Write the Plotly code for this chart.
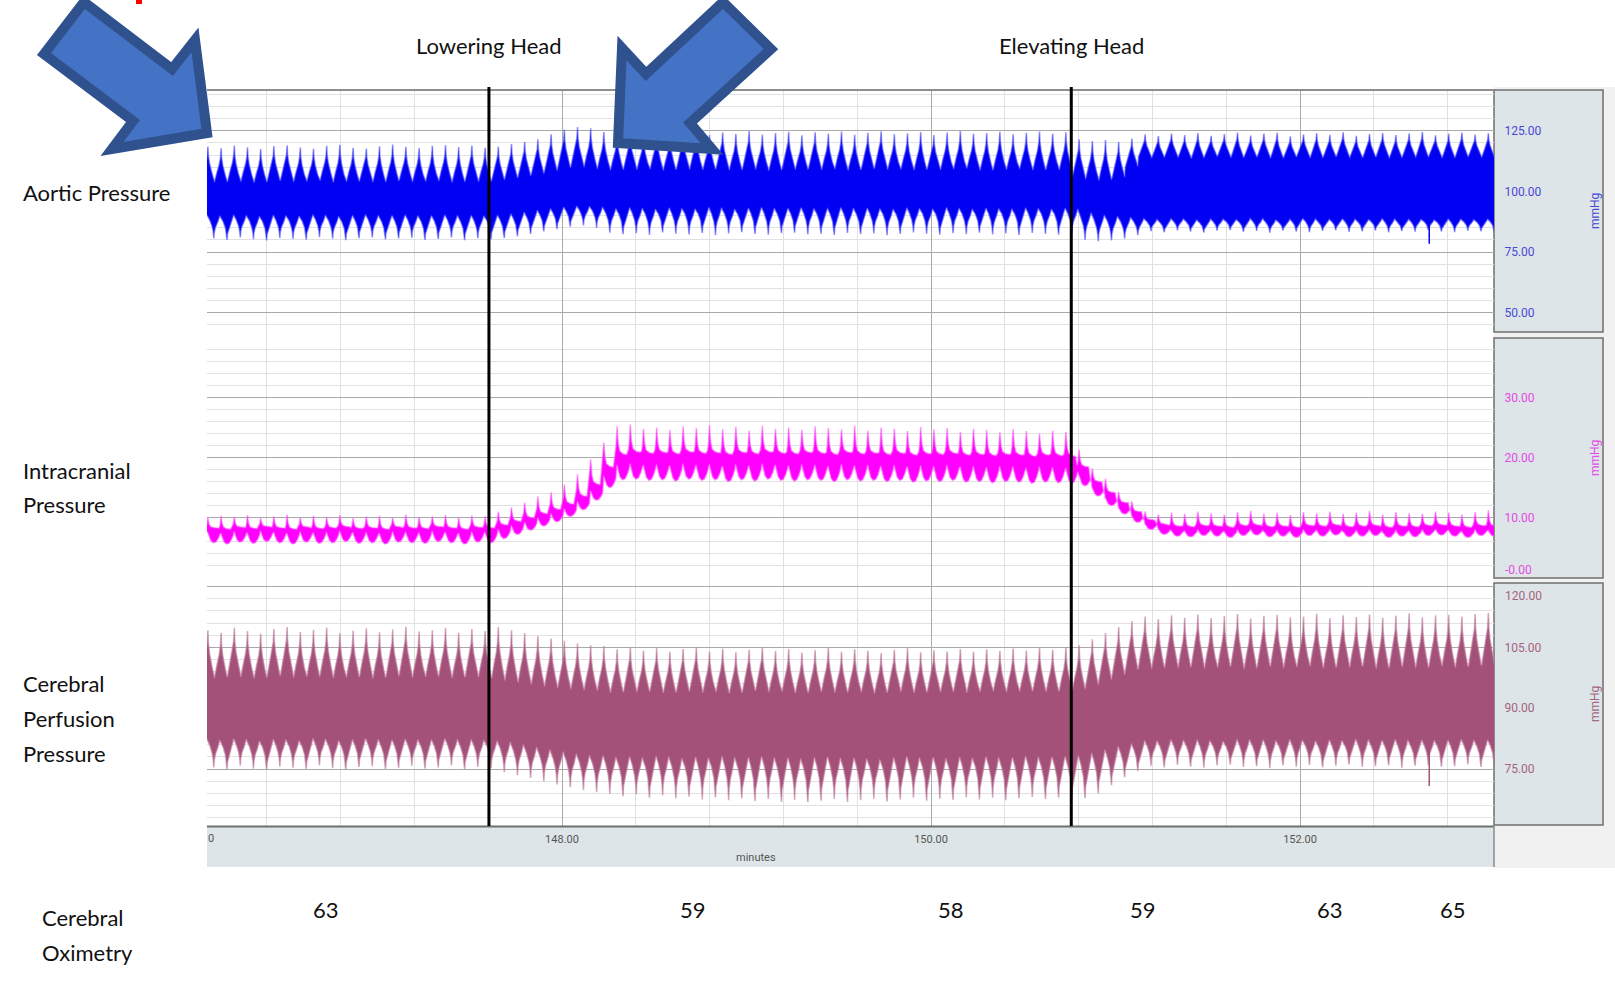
import numpy as np
import plotly.graph_objects as go
from plotly.subplots import make_subplots

W, H = 1615, 986

# ---- time axis (minutes) -------------------------------------------------
X_RANGE = [146.076, 153.051]
X_TICKS = [148, 150, 152]
X_TICKTEXT = ["148.00", "150.00", "152.00"]
BREATH_START = 146.081      # first ventilator breath peak
BREATH_PERIOD = 0.07154     # minutes per breath

EVENT_TIMES = [147.604, 150.760]
EVENT_LABELS = ["Lowering Head", "Elevating Head"]

# ---- cerebral oximetry readings -----------------------------------------
oxi_times = [146.72, 148.71, 150.11, 151.15, 152.16, 152.83]
oxi_values = [63, 59, 58, 59, 63, 65]

# ---- aortic pressure, per-breath envelope (mmHg) --------------------------
aortic_peak = [
    118.5, 117.8, 118.9, 118.2, 117.5, 118.7, 119.0, 118.1, 117.6, 118.8, 119.2,
    118.0, 117.7, 118.6, 119.3, 118.4, 117.9, 118.8, 119.1, 118.3, 118.9, 118.0,
    118.5, 119.5, 120.5, 121.5, 123.5, 125.5, 126.5, 126.0,
    124.5, 123.8, 124.2, 123.0, 124.6, 123.5, 124.0, 124.8, 123.2, 124.3, 123.7, 124.9,
    123.4, 124.1, 124.6, 123.1, 124.4, 123.9, 124.7, 123.3, 124.2, 124.8, 123.6, 124.0,
    124.5, 123.2, 124.3, 124.9, 123.8, 124.1, 124.6, 123.5, 124.2, 124.7, 123.9, 124.4,
    121.5, 120.8, 121.2, 120.5, 121.8,
    123.5, 122.8, 123.9, 123.2, 124.1, 122.9, 123.6, 124.3, 123.0, 123.8, 124.2, 122.7, 123.5, 124.0,
    123.3, 124.4, 122.9, 123.7, 124.1, 123.2, 123.9, 124.5, 123.1, 123.8, 124.3, 123.4, 124.0,
]
aortic_upper = [
    104.5, 103.8, 104.2, 104.0, 103.6, 104.3, 104.6, 103.9, 104.1, 104.4, 103.7,
    104.0, 104.5, 103.8, 104.2, 104.6, 103.9, 104.1, 104.3, 103.7, 104.4, 104.0,
    104.5, 105.3, 106.2, 107.0, 108.2, 109.5, 110.3, 110.0,
    109.2, 108.7, 109.4, 108.9, 109.1, 108.6, 109.3, 109.0, 108.8, 109.5, 108.7, 109.2,
    109.0, 108.5, 109.3, 108.9, 109.4, 108.8, 109.1, 108.6, 109.2, 109.5, 108.9, 109.0,
    108.7, 109.3, 108.8, 109.1, 109.4, 108.6, 109.0, 108.9, 109.2, 108.7, 109.1, 108.8,
    106.0, 105.0, 104.5, 105.5, 110.0,
    114.2, 113.8, 114.5, 114.0, 113.6, 114.3, 114.7, 113.9, 114.1, 114.4, 113.7, 114.0, 114.6, 113.8,
    114.2, 114.5, 113.9, 114.1, 114.3, 113.7, 114.4, 114.0, 114.6, 113.8, 114.2, 114.5, 114.0,
]
aortic_lower = [
    90.2, 89.8, 90.4, 90.0, 89.7, 90.3, 90.1, 89.9, 90.5, 90.0, 89.6,
    90.2, 90.4, 89.8, 90.1, 90.3, 89.9, 90.0, 90.4, 89.7, 90.2, 90.0,
    90.2, 90.8, 91.5, 92.3, 93.0, 93.6, 94.0, 93.8,
    93.2, 92.8, 93.4, 93.0, 92.7, 93.3, 93.1, 92.9, 93.5, 93.0, 92.6, 93.2,
    93.4, 92.8, 93.1, 93.3, 92.9, 93.0, 93.4, 92.7, 93.2, 93.0, 92.8, 93.3,
    93.1, 92.9, 93.4, 93.0, 92.7, 93.2, 93.1, 92.8, 93.3, 93.0, 92.9, 93.1,
    91.5, 90.5, 90.0, 89.5, 89.0,
    88.6, 88.2, 88.8, 88.4, 88.1, 88.7, 88.5, 88.3, 88.9, 88.4, 88.0, 88.6, 88.8, 88.2,
    88.5, 88.7, 88.3, 88.4, 88.8, 88.1, 88.6, 88.4, 88.2, 88.7, 88.5, 88.3, 88.6,
]
aortic_trough = [
    80.6, 80.0, 81.0, 80.3, 79.8, 80.8, 80.4, 80.1, 81.1, 80.5, 79.9,
    80.7, 81.0, 80.2, 80.6, 80.9, 80.0, 80.4, 81.0, 79.9, 80.7, 80.3,
    80.8, 81.5, 82.5, 83.5, 84.5, 85.5, 86.0, 85.0,
    83.0, 82.4, 82.8, 82.1, 83.1, 82.6, 82.3, 82.9, 82.0, 82.7, 83.2, 82.5,
    82.2, 82.8, 83.0, 82.3, 82.6, 82.1, 82.9, 82.4, 82.7, 82.0, 82.5, 83.1,
    82.6, 82.2, 82.8, 82.4, 83.0, 82.3, 82.7, 82.1, 82.9, 82.5, 82.2, 82.8,
    80.0, 79.5, 79.8, 80.5, 82.0,
    83.6, 83.2, 84.0, 83.5, 83.1, 83.8, 84.1, 83.4, 83.7, 83.0, 83.9, 83.5, 83.2, 83.8,
    84.0, 83.3, 83.6, 83.9, 83.1, 83.7, 83.4, 84.1, 83.5, 83.2, 83.8, 83.6, 83.4,
]

# ---- intracranial pressure, per-breath envelope (mmHg) --------------------
icp_peak = [
    10.0, 10.3, 10.1, 10.4, 9.9, 10.2, 10.5, 10.0, 10.3, 10.1, 10.4,
    9.9, 10.2, 10.3, 10.0, 10.5, 10.1, 10.2, 10.4, 10.0, 10.3, 10.2,
    11.0, 11.7, 12.5, 13.5, 14.2, 15.5, 17.2, 19.7, 22.5, 25.2,
    25.5, 24.8, 25.0, 24.6, 25.2, 24.9, 25.4, 24.7, 25.1, 24.5, 25.3, 24.8,
    25.0, 24.6, 25.2, 24.9, 24.7, 25.3, 24.5, 25.0, 24.8, 24.4, 25.1, 24.7,
    24.9, 24.3, 24.8, 24.6, 24.2, 24.7, 24.4, 24.0, 24.5, 24.3,
    21.3, 18.2, 16.5, 14.3, 12.7, 11.0, 10.5,
    10.8, 10.6, 11.0, 10.7, 10.5, 10.9, 11.1, 10.6, 10.8, 10.4, 10.9, 10.7, 11.0,
    10.6, 10.8, 11.1, 10.5, 10.9, 10.7, 10.6, 11.0, 10.8, 10.5, 10.9, 11.2,
]
icp_upper = [
    8.3, 8.1, 8.4, 8.2, 8.5, 8.3, 8.1, 8.4, 8.2, 8.3, 8.5,
    8.2, 8.3, 8.1, 8.4, 8.3, 8.2, 8.5, 8.3, 8.1, 8.4, 8.3,
    8.8, 9.4, 10.0, 10.7, 11.4, 12.3, 13.6, 15.6, 18.5, 20.6,
    21.0, 20.8, 20.9, 20.7, 21.0, 20.8, 20.9, 20.6, 20.9, 20.7, 21.0, 20.8,
    20.7, 20.9, 20.8, 20.6, 20.9, 20.7, 20.8, 20.6, 20.8, 20.5, 20.7, 20.6,
    20.8, 20.5, 20.6, 20.4, 20.6, 20.5, 20.3, 20.5, 20.4, 20.3,
    18.5, 16.0, 14.2, 12.5, 11.0, 9.6, 8.9,
    8.6, 8.5, 8.7, 8.6, 8.4, 8.7, 8.8, 8.5, 8.6, 8.4, 8.7, 8.6, 8.8,
    8.5, 8.6, 8.7, 8.4, 8.6, 8.5, 8.7, 8.8, 8.6, 8.4, 8.7, 8.6,
]
icp_cusp = [
    7.6, 7.4, 7.7, 7.5, 7.8, 7.6, 7.4, 7.7, 7.5, 7.6, 7.8,
    7.5, 7.6, 7.4, 7.7, 7.6, 7.5, 7.8, 7.6, 7.4, 7.7, 7.6,
    8.1, 8.7, 9.3, 10.0, 10.7, 11.5, 12.7, 14.5, 17.0, 18.8,
    19.0, 18.8, 18.9, 18.7, 19.0, 18.8, 18.9, 18.6, 18.9, 18.7, 19.0, 18.8,
    18.7, 18.9, 18.8, 18.6, 18.9, 18.7, 18.8, 18.6, 18.8, 18.5, 18.7, 18.6,
    18.8, 18.5, 18.6, 18.4, 18.6, 18.5, 18.3, 18.5, 18.4, 18.3,
    17.0, 15.0, 13.3, 11.7, 10.3, 9.0, 8.2,
    7.9, 7.8, 8.0, 7.9, 7.7, 8.0, 8.1, 7.8, 7.9, 7.7, 8.0, 7.9, 8.1,
    7.8, 7.9, 8.0, 7.7, 7.9, 7.8, 8.0, 8.1, 7.9, 7.7, 8.0, 7.9,
]
icp_trough = [
    5.8, 5.6, 5.9, 5.7, 6.0, 5.8, 5.6, 5.9, 5.7, 5.8, 6.0,
    5.7, 5.8, 5.6, 5.9, 5.8, 5.7, 6.0, 5.8, 5.6, 5.9, 5.8,
    6.5, 7.2, 7.9, 8.6, 9.3, 10.2, 11.3, 12.9, 15.0, 16.3,
    16.4, 16.2, 16.3, 16.1, 16.4, 16.2, 16.3, 16.0, 16.3, 16.1, 16.4, 16.2,
    16.1, 16.3, 16.2, 16.0, 16.3, 16.1, 16.2, 16.0, 16.2, 15.9, 16.1, 16.0,
    16.2, 15.9, 16.0, 15.8, 16.0, 15.9, 15.7, 15.9, 15.8, 15.7,
    15.3, 13.6, 12.0, 10.6, 9.2, 8.0, 7.2,
    6.9, 6.8, 7.0, 6.9, 6.7, 7.0, 7.1, 6.8, 6.9, 6.7, 7.0, 6.9, 7.1,
    6.8, 6.9, 7.0, 6.7, 6.9, 6.8, 7.0, 7.1, 6.9, 6.7, 7.0, 6.9,
]

# ---- cerebral perfusion pressure, per-breath envelope (mmHg) --------------
cpp_peak = [
    109.2, 108.6, 109.8, 109.0, 108.4, 109.5, 110.0, 108.8, 109.3, 109.9, 108.5,
    109.1, 109.7, 108.7, 109.4, 110.1, 108.9, 109.2, 109.8, 108.6, 109.5, 109.0,
    110.0, 109.2, 108.5, 107.8, 107.2, 106.6, 106.0, 105.5,
    105.3, 104.5, 105.0, 104.2, 104.8, 103.9, 104.6, 105.1, 104.0, 104.7, 103.8, 104.4,
    105.0, 104.1, 104.6, 103.7, 104.3, 104.9, 103.9, 104.5, 104.2, 103.6, 104.4, 104.8,
    103.8, 104.3, 104.0, 104.6, 103.9, 104.5, 104.1, 104.7, 104.2, 104.9, 104.4, 105.0,
    105.5, 107.0, 108.5, 110.0, 111.5,
    112.6, 112.0, 112.9, 112.3, 113.1, 112.2, 112.7, 113.2, 112.1, 112.8, 113.0, 112.4, 112.6, 113.3,
    112.2, 112.9, 112.5, 113.1, 112.3, 112.8, 113.4, 112.4, 112.9, 113.0, 112.6, 113.2, 113.5,
]
cpp_upper = [
    97.8, 97.4, 98.0, 97.6, 97.3, 97.9, 98.1, 97.5, 97.7, 98.0, 97.4,
    97.6, 97.9, 97.3, 97.8, 98.1, 97.5, 97.7, 98.0, 97.4, 97.8, 97.6,
    97.3, 96.8, 96.3, 95.8, 95.3, 94.9, 94.6, 94.4,
    94.3, 93.8, 94.2, 93.9, 94.4, 93.7, 94.1, 94.3, 93.8, 94.0, 93.6, 94.2,
    94.4, 93.9, 94.1, 93.7, 94.0, 94.3, 93.8, 94.1, 93.9, 93.6, 94.2, 94.0,
    93.7, 94.1, 93.9, 94.3, 93.8, 94.0, 94.2, 93.9, 94.1, 94.4, 94.0, 94.3,
    94.5, 95.5, 96.8, 98.0, 99.2,
    100.1, 99.7, 100.3, 99.9, 100.4, 99.8, 100.0, 100.5, 99.6, 100.2, 100.4, 99.9, 100.1, 100.3,
    99.8, 100.2, 100.0, 100.5, 99.7, 100.1, 100.4, 99.9, 100.2, 100.3, 100.0, 100.4, 100.6,
]
cpp_lower = [
    82.3, 82.0, 82.5, 82.1, 81.9, 82.4, 82.2, 82.0, 82.6, 82.2, 81.9,
    82.3, 82.5, 82.0, 82.2, 82.4, 82.1, 82.2, 82.5, 81.9, 82.3, 82.1,
    81.8, 81.2, 80.6, 80.0, 79.5, 79.0, 78.6, 78.3,
    78.2, 77.8, 78.1, 77.7, 78.3, 77.9, 77.6, 78.0, 77.8, 78.2, 77.5, 77.9,
    78.1, 77.6, 77.8, 77.4, 77.9, 78.0, 77.5, 77.8, 77.6, 77.3, 77.9, 78.1,
    77.7, 77.9, 77.5, 78.0, 77.8, 78.1, 77.6, 77.9, 78.2, 77.8, 78.0, 78.1,
    78.3, 79.0, 79.8, 80.6, 81.3,
    82.1, 81.8, 82.3, 81.9, 82.2, 82.0, 81.7, 82.4, 82.0, 82.2, 81.9, 82.3, 82.1, 81.8,
    82.2, 82.0, 82.4, 81.9, 82.1, 82.3, 81.8, 82.2, 82.0, 82.1, 82.3, 81.9, 82.2,
]
cpp_trough = [
    75.4, 74.9, 75.8, 75.1, 74.8, 75.6, 75.3, 75.0, 75.9, 75.2, 74.8,
    75.5, 75.7, 75.0, 75.3, 75.8, 75.1, 75.4, 75.9, 74.9, 75.5, 75.2,
    74.2, 73.5, 72.8, 72.0, 71.2, 70.5, 69.8, 69.3,
    68.9, 68.3, 68.7, 67.9, 68.5, 67.8, 68.2, 67.5, 68.0, 67.3, 67.8, 67.1,
    67.6, 66.9, 67.4, 66.8, 67.2, 67.6, 66.9, 67.3, 67.7, 67.0, 67.5, 67.9,
    67.2, 67.7, 67.4, 68.0, 67.5, 67.9, 67.3, 67.8, 68.1, 67.6, 67.9, 67.5,
    67.8, 69.0, 71.0, 73.0, 74.5,
    75.8, 75.4, 76.0, 75.6, 75.3, 75.9, 76.1, 75.5, 75.7, 75.2, 75.9, 75.6, 76.0, 75.4,
    75.8, 76.1, 75.5, 75.7, 75.9, 75.3, 75.8, 76.0, 75.6, 75.7, 76.1, 75.5, 75.8,
]

# single-sample artefact near the end of the record (time, low value)
artifact_time = 152.70
aortic_artifact = [88.0, 78.4]
cpp_artifact = [82.0, 70.8]

# ---- axis scales -----------------------------------------------------------
AORTIC_RANGE = [40.0, 141.8]
AORTIC_TICKS = [50, 75, 100, 125]
AORTIC_TICKTEXT = ["50.00", "75.00", "100.00", "125.00"]
ICP_RANGE = [-0.08, 40.08]
ICP_TICKS = [0, 10, 20, 30]
ICP_TICKTEXT = ["-0.00", "10.00", "20.00", "30.00"]
CPP_RANGE = [60.95, 122.1]
CPP_TICKS = [75, 90, 105, 120]
CPP_TICKTEXT = ["75.00", "90.00", "105.00", "120.00"]

n_breaths = len(aortic_peak)
for arr in (aortic_upper, aortic_lower, aortic_trough, icp_peak, icp_upper,
            icp_cusp, icp_trough, cpp_peak, cpp_upper, cpp_lower, cpp_trough):
    assert len(arr) == n_breaths
breath_times = BREATH_START + BREATH_PERIOD * np.arange(n_breaths)

# ---- envelope outlines (phase in breaths, weight between base and tip) -----
SPIKE_UP = [(-0.50, 0.0), (-0.32, 0.28), (-0.14, 0.52), (-0.05, 0.72), (0.0, 1.0),
            (0.03, 0.74), (0.12, 0.50), (0.30, 0.22), (0.45, 0.02)]
SPIKE_DOWN = [(-0.05, 0.0), (0.15, 0.22), (0.33, 0.50), (0.41, 0.74), (0.45, 1.0),
              (0.48, 0.74), (0.57, 0.52), (0.75, 0.28), (0.90, 0.02)]
ICP_UP = [(-0.15, 0.05), (-0.08, 0.30), (-0.03, 0.75), (0.0, 1.0), (0.03, 0.70),
          (0.09, 0.35), (0.20, 0.10), (0.45, 0.0), (0.72, -0.03)]
ICP_DOWN = [(-0.02, 0.0), (0.08, 0.35), (0.22, 0.80), (0.40, 1.0), (0.60, 0.93),
            (0.78, 0.60), (0.90, 0.25)]


def edge(base, tip, shape):
    xs, ys = [X_RANGE[0] - 0.05], [base[0]]
    for t, b, p in zip(breath_times, base, tip):
        for phase, w in shape:
            xs.append(t + phase * BREATH_PERIOD)
            ys.append(b + w * (p - b))
    xs.append(X_RANGE[1] + 0.05)
    ys.append(base[-1])
    return xs, ys


def band(upper_base, upper_tip, lower_base, lower_tip, up_shape, down_shape):
    ux, uy = edge(upper_base, upper_tip, up_shape)
    lx, ly = edge(lower_base, lower_tip, down_shape)
    return ux + lx[::-1], uy + ly[::-1]


BLUE, BLUE_EDGE = "#0000f2", "rgba(70,70,255,0.55)"
MAGENTA, MAGENTA_EDGE = "#ff00ff", "rgba(255,90,255,0.55)"
MAUVE, MAUVE_EDGE = "#a4517a", "rgba(190,120,155,0.6)"

fig = make_subplots(rows=3, cols=1, shared_xaxes=True, vertical_spacing=0)

bx, by = band(aortic_upper, aortic_peak, aortic_lower, aortic_trough, SPIKE_UP, SPIKE_DOWN)
fig.add_trace(go.Scatter(x=bx, y=by, mode="lines", fill="toself", fillcolor=BLUE,
                         line=dict(color=BLUE_EDGE, width=1.6), hoverinfo="skip"), row=1, col=1)
fig.add_trace(go.Scatter(x=[artifact_time, artifact_time], y=aortic_artifact, mode="lines",
                         line=dict(color=BLUE, width=1.5), hoverinfo="skip"), row=1, col=1)

bx, by = band(icp_upper, icp_peak, icp_cusp, icp_trough, ICP_UP, ICP_DOWN)
fig.add_trace(go.Scatter(x=bx, y=by, mode="lines", fill="toself", fillcolor=MAGENTA,
                         line=dict(color=MAGENTA_EDGE, width=1.6), hoverinfo="skip"), row=2, col=1)

bx, by = band(cpp_upper, cpp_peak, cpp_lower, cpp_trough, SPIKE_UP, SPIKE_DOWN)
fig.add_trace(go.Scatter(x=bx, y=by, mode="lines", fill="toself", fillcolor=MAUVE,
                         line=dict(color=MAUVE_EDGE, width=1.6), hoverinfo="skip"), row=3, col=1)
fig.add_trace(go.Scatter(x=[artifact_time, artifact_time], y=cpp_artifact, mode="lines",
                         line=dict(color=MAUVE, width=1.5), hoverinfo="skip"), row=3, col=1)


def px(x):
    return x / W


def py(y):
    return 1 - y / H


PLOT_L, PLOT_R = 207, 1494
MAJOR_GRID, MINOR_GRID = "#a9a9a9", "#e1e1e1"
TICK_FONT = "Roboto"
SCALE_SIZE = 12

AORTIC_C, ICP_C, CPP_C = "#4848d6", "#e44ae4", "#a5647f"
# labels at the very ends of a scale box sit inside it, so they are placed separately
edge_labels = {2: (0, "-0.00", 8), 3: (120, "120.00", -9)}

panels = [
    (1, (90, 337), AORTIC_RANGE, AORTIC_TICKS, AORTIC_TICKTEXT, 5, AORTIC_C),
    (2, (337, 578), ICP_RANGE, ICP_TICKS, ICP_TICKTEXT, 2, ICP_C),
    (3, (578, 826), CPP_RANGE, CPP_TICKS, CPP_TICKTEXT, 3, CPP_C),
]
annotations = []
for row, (top, bot), rng, tv, tt, minor_step, col in panels:
    shown = list(tt)
    if row in edge_labels:
        val, txt, shift = edge_labels[row]
        shown[tv.index(val)] = ""
        annotations.append(dict(text=txt, x=px(1503), y=val, xref="paper",
                                yref="y" if row == 1 else f"y{row}", yshift=shift,
                                xanchor="left", yanchor="middle", showarrow=False,
                                font=dict(family=TICK_FONT, size=SCALE_SIZE, color=col)))
    fig.update_yaxes(
        row=row, col=1, domain=[py(bot), py(top)], range=rng, side="right",
        tickmode="array", tickvals=tv, ticktext=shown,
        tickfont=dict(family=TICK_FONT, size=SCALE_SIZE, color=col),
        ticks="outside", ticklen=7, tickcolor="rgba(0,0,0,0)",
        showgrid=True, gridcolor=MAJOR_GRID, gridwidth=1,
        minor=dict(tickmode="linear", tick0=0, dtick=minor_step, showgrid=True,
                   gridcolor=MINOR_GRID, gridwidth=1, ticks=""),
        zeroline=False, showline=False, automargin=False, fixedrange=True)
    fig.update_xaxes(
        row=row, col=1, domain=[px(PLOT_L), px(PLOT_R)], range=X_RANGE,
        tickmode="array", tickvals=X_TICKS, ticktext=X_TICKTEXT,
        showgrid=True, gridcolor=MAJOR_GRID, gridwidth=1,
        minor=dict(tickmode="linear", tick0=148, dtick=0.4, showgrid=True,
                   gridcolor=MINOR_GRID, gridwidth=1, ticks=""),
        zeroline=False, showline=False, automargin=False,
        showticklabels=(row == 3), ticks="outside", ticklen=3,
        tickcolor="rgba(0,0,0,0)",
        tickfont=dict(family=TICK_FONT, size=11, color="#555555"))

shapes = []
PANEL_BG = "#dde5e8"
BOX_LINE = dict(color="#6f6f6f", width=1.5)
# grey surround of the scale boxes and the time band
shapes.append(dict(type="rect", xref="paper", yref="paper", x0=px(PLOT_R), x1=1,
                   y0=py(868), y1=py(87), fillcolor="#f1f1f1", line=dict(width=0), layer="below"))
for top, bot in [(90, 332), (338, 578), (583, 825)]:
    shapes.append(dict(type="rect", xref="paper", yref="paper", x0=px(PLOT_R), x1=px(1603),
                       y0=py(bot), y1=py(top), fillcolor=PANEL_BG, line=BOX_LINE, layer="below"))
shapes.append(dict(type="rect", xref="paper", yref="paper", x0=px(PLOT_L), x1=px(PLOT_R),
                   y0=py(867), y1=py(826), fillcolor=PANEL_BG, line=dict(width=0), layer="below"))
shapes.append(dict(type="line", xref="paper", yref="paper", x0=px(PLOT_L), x1=px(PLOT_R),
                   y0=py(826.5), y1=py(826.5), line=dict(color="#6f6f6f", width=2), layer="above"))
shapes.append(dict(type="line", xref="paper", yref="paper", x0=px(PLOT_R), x1=px(PLOT_R),
                   y0=py(867), y1=py(826), line=dict(color="#8a8a8a", width=1.5), layer="above"))
shapes.append(dict(type="line", xref="paper", yref="paper", x0=px(PLOT_L), x1=px(PLOT_R),
                   y0=py(90), y1=py(90), line=dict(color="#8e8e8e", width=2), layer="above"))

# event markers
for t in EVENT_TIMES:
    shapes.append(dict(type="line", xref="x3", yref="paper", x0=t, x1=t,
                       y0=py(826), y1=py(87), line=dict(color="black", width=3), layer="above"))


def poly_path(pts):
    return "M " + " L ".join(f"{px(x):.5f},{py(y):.5f}" for x, y in pts) + " Z"


ARROW_FILL, ARROW_LINE = "#4472c4", "#2f528f"
left_arrow = [(44, 54), (84, 2), (172, 69), (195, 40), (207, 133), (112, 149), (133, 121)]
right_arrow = [(723, 2), (771, 49), (690, 123), (712, 149), (618, 143), (622, 48), (646, 74)]
for pts in (left_arrow, right_arrow):
    shapes.append(dict(type="path", xref="paper", yref="paper", path=poly_path(pts),
                       fillcolor=ARROW_FILL, line=dict(color=ARROW_LINE, width=10),
                       layer="above"))
shapes.append(dict(type="rect", xref="paper", yref="paper", x0=px(136), x1=px(142),
                   y0=py(4), y1=1, fillcolor="#ff0000", line=dict(width=0), layer="above"))

TEXT_FONT = dict(family="Lato", size=22, color="#111111")


def label(text, x, y, xanchor="left", xref="paper", font=TEXT_FONT):
    annotations.append(dict(text=text, x=x if xref != "paper" else px(x), y=py(y),
                            xref=xref, yref="paper", xanchor=xanchor, yanchor="middle",
                            showarrow=False, font=font))


for t, name in zip(EVENT_TIMES, EVENT_LABELS):
    label(name, t, 45, xanchor="center", xref="x3")

label("Aortic Pressure", 21, 192)
label("Intracranial", 21, 470)
label("Pressure", 21, 504)
label("Cerebral", 21, 683)
label("Perfusion", 21, 718)
label("Pressure", 21, 753)
label("Cerebral", 40, 917)
label("Oximetry", 40, 952)
for t, v in zip(oxi_times, oxi_values):
    label(str(v), t, 909, xanchor="center", xref="x3")

# unit captions inside the scale boxes
for (top, bot), col in [((90, 332), AORTIC_C), ((338, 578), ICP_C), ((583, 825), CPP_C)]:
    annotations.append(dict(text="mmHg", x=px(1595), y=py((top + bot) / 2), xref="paper",
                            yref="paper", xanchor="center", yanchor="middle", textangle=-90,
                            showarrow=False, font=dict(family=TICK_FONT, size=12, color=col)))

small = dict(family=TICK_FONT, size=11, color="#555555")
label("minutes", 756, 857, xanchor="center", font=small)
label("0", 206, 838, font=small)

fig.update_layout(
    width=W, height=H, margin=dict(l=0, r=0, t=0, b=0),
    paper_bgcolor="white", plot_bgcolor="white", showlegend=False,
    shapes=shapes, annotations=annotations,
)

fig.write_html("out.html")
